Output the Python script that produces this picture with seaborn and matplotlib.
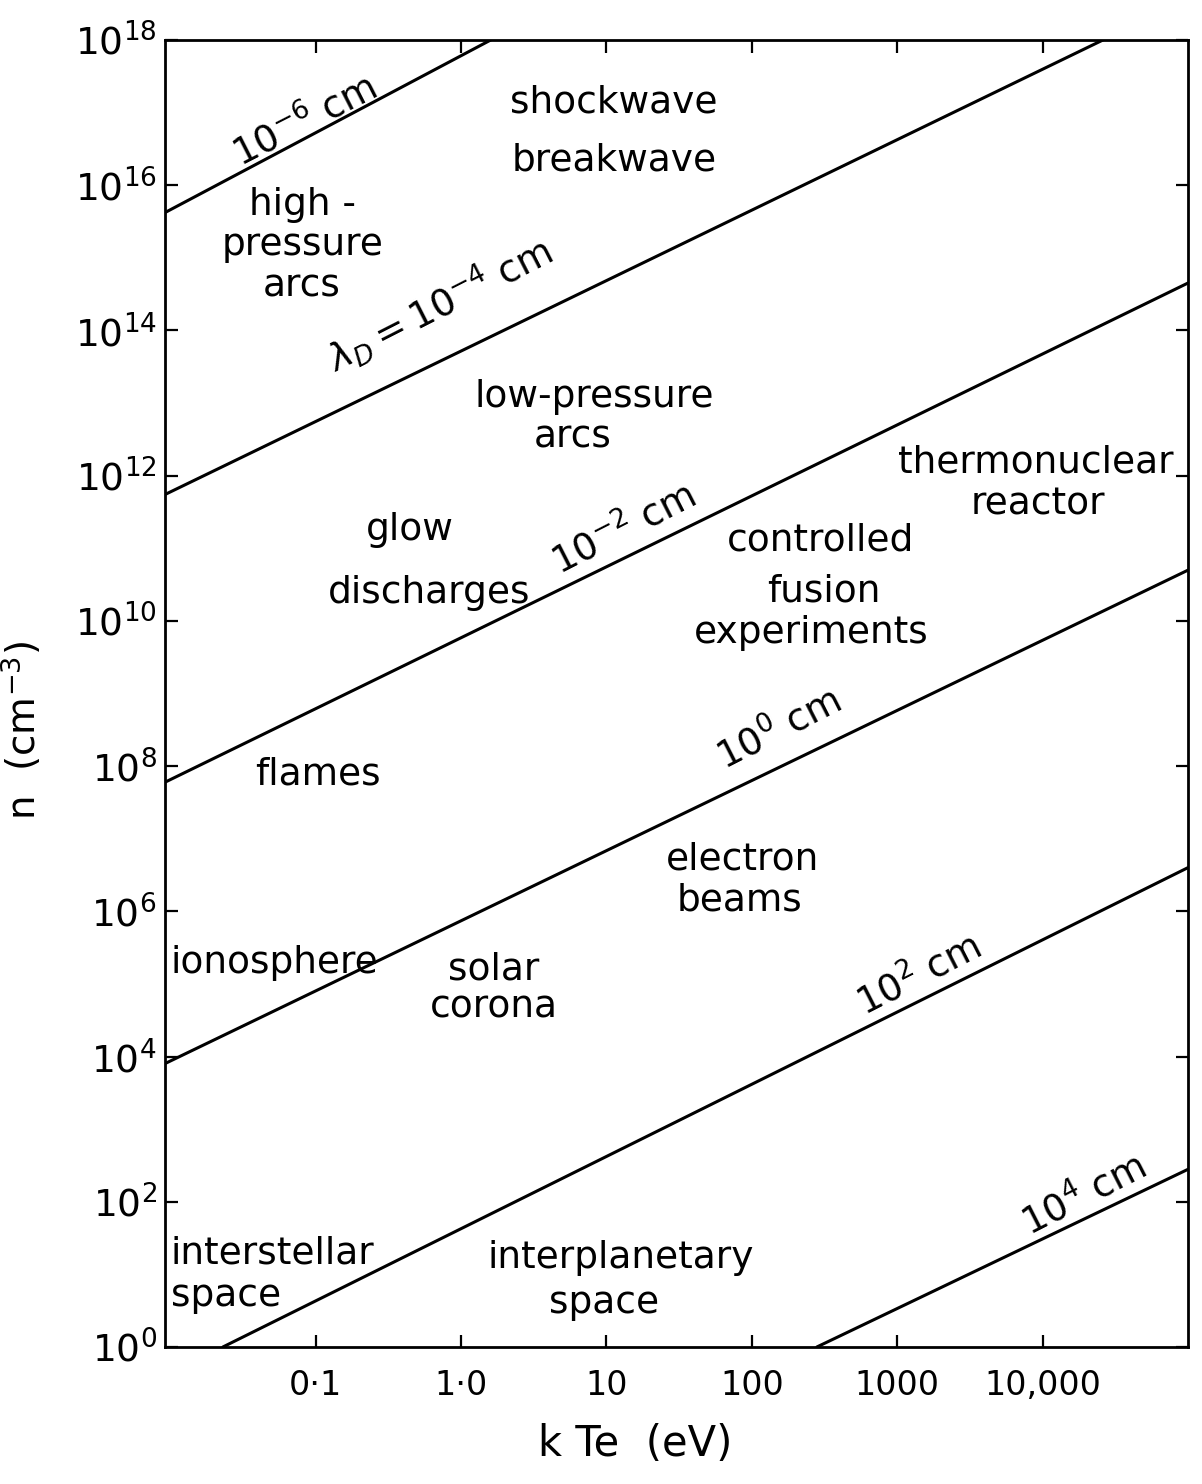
import numpy as np
import pandas as pd
import matplotlib
matplotlib.use("Agg")
import matplotlib.pyplot as plt
from matplotlib.ticker import NullLocator
import seaborn as sns

# Debye-length lines: end points (temperature in eV, density in cm^-3)
debye_lengths = ["1e-6 cm", "1e-4 cm", "1e-2 cm", "1e0 cm", "1e2 cm", "1e4 cm"]
temp_start = [0.0092, 0.0092, 0.0092, 0.0092, 0.023, 280.0]
dens_start = [4.2e15, 5.5e11, 6.0e7, 8.0e3, 1.0, 1.0]
temp_end = [1.6, 2.6e4, 1.0e5, 1.0e5, 1.0e5, 1.0e5]
dens_end = [1.0e18, 1.0e18, 4.5e14, 5.0e10, 4.0e6, 2.8e2]

# Labels written along each line
line_label_text = [r"$10^{-6}$ cm", r"$\lambda_D = 10^{-4}$ cm", r"$10^{-2}$ cm",
                   r"$10^{0}$ cm", r"$10^{2}$ cm", r"$10^{4}$ cm"]
line_label_T = [0.084, 0.71, 13.2, 154.0, 1406.0, 1.9e4]
line_label_n = [7.4e16, 2.2e14, 1.8e11, 3.2e8, 1.3e5, 124.0]

# Plasma regimes (centred labels)
region_text = ["shockwave", "breakwave", "high -", "pressure", "arcs",
               "low-pressure", "arcs", "glow", "discharges",
               "thermonuclear", "reactor", "controlled", "fusion", "experiments",
               "flames", "electron", "beams", "solar", "corona",
               "interplanetary", "space"]
region_T = [11.3, 11.3, 0.0815, 0.0815, 0.080,
            8.25, 5.9, 0.442, 0.607,
            8950.0, 9330.0, 299.0, 313.0, 255.0,
            0.103, 85.7, 81.7, 1.69, 1.69,
            12.6, 9.66]
region_n = [1.36e17, 2.2e16, 5.4e15, 1.5e15, 4.0e14,
            1.2e13, 3.4e12, 1.8e11, 2.4e10,
            1.5e12, 4.0e11, 1.27e11, 2.5e10, 6.8e9,
            7.6e7, 5.1e6, 1.4e6, 1.56e5, 4.7e4,
            16.8, 4.0]

# Regimes written flush against the left axis
left_text = ["ionosphere", "interstellar", "space"]
left_T = [0.0101, 0.0100, 0.0101]
left_n = [1.95e5, 19.7, 5.0]

x_ticks = [0.1, 1.0, 10.0, 100.0, 1000.0, 10000.0]
x_tick_labels = ["0·1", "1·0", "10", "100", "1000", "10,000"]
y_ticks = [1e0, 1e2, 1e4, 1e6, 1e8, 1e10, 1e12, 1e14, 1e16, 1e18]
y_tick_labels = [r"$\mathregular{10^{%d}}$" % p for p in range(0, 19, 2)]

sns.set_theme(style="ticks")
plt.rcParams["font.family"] = ["DejaVu Sans"]
plt.rcParams["mathtext.fontset"] = "dejavusans"
plt.rcParams["text.color"] = "black"
plt.rcParams["axes.labelcolor"] = "black"
plt.rcParams["xtick.color"] = "black"
plt.rcParams["ytick.color"] = "black"
plt.rcParams["xtick.labelcolor"] = "black"
plt.rcParams["ytick.labelcolor"] = "black"

fig = plt.figure(figsize=(12.02, 14.84), dpi=100)
ax = fig.add_axes([165 / 1202, 137 / 1484, 1023 / 1202, 1307 / 1484])
ax.set_xscale("log")
ax.set_yscale("log")

rows = []
for lam, t0, n0, t1, n1 in zip(debye_lengths, temp_start, dens_start, temp_end, dens_end):
    rows.append({"lambda": lam, "T": t0, "n": n0})
    rows.append({"lambda": lam, "T": t1, "n": n1})
lines = pd.DataFrame(rows)

sns.lineplot(data=lines, x="T", y="n", units="lambda", estimator=None,
             color="black", linewidth=2.2, sort=False, legend=False, ax=ax)

ax.set_xlim(0.0092, 1.0e5)
ax.set_ylim(1.0, 1.0e18)

ax.set_xticks(x_ticks, x_tick_labels)
ax.set_yticks(y_ticks, y_tick_labels)
ax.xaxis.set_minor_locator(NullLocator())
ax.yaxis.set_minor_locator(NullLocator())
ax.tick_params(axis="both", which="major", direction="in", top=True, right=True,
               length=9, width=1.6, color="black", labelcolor="black")
ax.tick_params(axis="x", labelsize=24, pad=16)
ax.tick_params(axis="y", labelsize=27, pad=6)
for sp in ax.spines.values():
    sp.set_linewidth(2.0)
    sp.set_color("black")

ax.set_xlabel("k Te  (eV)", fontsize=30, color="black")
ax.xaxis.set_label_coords(0.46, -0.058)
ax.set_ylabel(r"n  (cm$^{-3}$)", fontsize=28, color="black")
ax.yaxis.set_label_coords(-0.118, 0.472)

for s, t, n in zip(line_label_text, line_label_T, line_label_n):
    ax.text(t, n, s, fontsize=27, rotation=27, rotation_mode="anchor",
            ha="center", va="center", color="black")

for s, t, n in zip(region_text, region_T, region_n):
    ax.text(t, n, s, fontsize=27, ha="center", va="center", color="black")

for s, t, n in zip(left_text, left_T, left_n):
    ax.text(t, n, s, fontsize=27, ha="left", va="center", color="black")

fig.savefig("out.png", dpi=100, facecolor="white")
